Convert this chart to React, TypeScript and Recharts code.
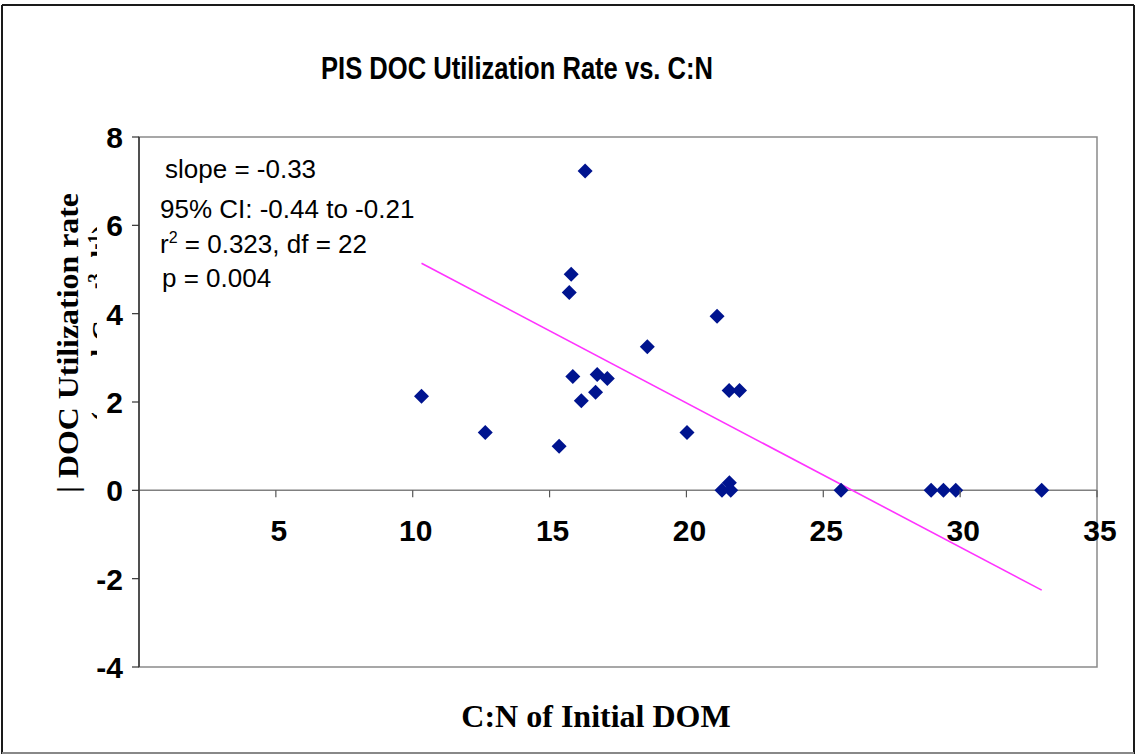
import React from 'react'
import {
  ScatterChart, Scatter, XAxis, YAxis, ReferenceLine, ReferenceArea,
} from 'recharts'

// C:N of initial DOM vs DOC utilization rate
const CN_RATIO = [10.32, 12.65, 15.35, 16.3, 15.79, 15.72, 15.85, 16.16, 16.68, 16.74, 17.11, 18.57, 20.02, 21.12, 21.56, 21.94, 21.3, 21.57, 21.62, 25.65, 28.94, 29.39, 29.84, 32.98]
const DOC_RATE = [2.13, 1.31, 1.0, 7.23, 4.89, 4.48, 2.58, 2.03, 2.22, 2.62, 2.53, 3.25, 1.31, 3.94, 2.26, 2.26, 0, 0.17, 0, 0, 0, 0, 0, 0]

// fitted line end points
const TREND_X = [10.32, 32.98]
const TREND_Y = [5.14, -2.26]

const X_TICKS = [5, 10, 15, 20, 25, 30, 35]
const Y_TICKS = [-4, -2, 0, 2, 4, 6, 8]
const X_DOMAIN: [number, number] = [0, 35]
const Y_DOMAIN: [number, number] = [-4, 8]

const TITLE = 'PIS DOC Utilization Rate vs. C:N'
const X_LABEL = 'C:N of Initial DOM'
const Y_LABEL = '| DOC Utilization rate'
const STATS = ['slope = -0.33', '95% CI: -0.44 to -0.21', 'p = 0.004']

const W = 1136
const H = 755
const PLOT_TOP = 137
const PLOT_BOTTOM = 667
const X_AXIS_H = 30
const ZERO_Y = PLOT_TOP + ((Y_DOMAIN[1] - 0) / (Y_DOMAIN[1] - Y_DOMAIN[0])) * (PLOT_BOTTOM - PLOT_TOP)

const SANS = '"Liberation Sans", Arial, sans-serif'
const SERIF = '"Liberation Serif", "Times New Roman", serif'

const data = CN_RATIO.map((x, i) => ({ x, y: DOC_RATE[i] }))

function Diamond(props: any) {
  const { cx, cy } = props
  const r = 7.5
  return (
    <polygon
      points={`${cx},${cy - r} ${cx + r},${cy} ${cx},${cy + r} ${cx - r},${cy}`}
      fill="#00148f"
    />
  )
}

// x axis sits on y = 0, so draw ticks there
function XTick(props: any) {
  const { x, payload } = props
  return (
    <g>
      <line x1={x} x2={x} y1={ZERO_Y} y2={ZERO_Y + 7} stroke="#555" strokeWidth={1.2} />
      <text
        x={x + 3}
        y={ZERO_Y + 51}
        textAnchor="middle"
        fontFamily={SANS}
        fontWeight="bold"
        fontSize={30}
        fill="#000"
      >
        {payload.value}
      </text>
    </g>
  )
}

function YTick(props: any) {
  const { x, y, payload } = props
  return (
    <text
      x={x}
      y={y + 11}
      textAnchor="end"
      fontFamily={SANS}
      fontWeight="bold"
      fontSize={30}
      fill="#000"
    >
      {payload.value}
    </text>
  )
}

export default function App() {
  return (
    <div style={{ position: 'absolute', left: 0, top: 0, width: W, height: H, background: '#fff' }}>
      <ScatterChart
        width={W}
        height={H}
        margin={{ top: PLOT_TOP, right: W - 1097, bottom: H - PLOT_BOTTOM - X_AXIS_H, left: 0 }}
      >
        <ReferenceArea
          x1={X_DOMAIN[0]}
          x2={X_DOMAIN[1]}
          y1={Y_DOMAIN[0]}
          y2={Y_DOMAIN[1]}
          fill="none"
          stroke="#8a8a8a"
          strokeWidth={1.5}
        />
        <XAxis
          type="number"
          dataKey="x"
          domain={X_DOMAIN}
          ticks={X_TICKS}
          height={X_AXIS_H}
          interval={0}
          axisLine={false}
          tickLine={false}
          tick={<XTick />}
          allowDataOverflow
        />
        <YAxis
          type="number"
          dataKey="y"
          domain={Y_DOMAIN}
          ticks={Y_TICKS}
          width={139}
          tickSize={7}
          tickMargin={9}
          axisLine={{ stroke: '#333', strokeWidth: 1.5 }}
          tickLine={{ stroke: '#333', strokeWidth: 1.2 }}
          tick={<YTick />}
          allowDataOverflow
        />
        <ReferenceLine y={0} stroke="#808080" strokeWidth={1.5} />
        <ReferenceLine
          segment={[
            { x: TREND_X[0], y: TREND_Y[0] },
            { x: TREND_X[1], y: TREND_Y[1] },
          ]}
          stroke="#ff33ff"
          strokeWidth={1.6}
        />
        <Scatter data={data} shape={<Diamond />} isAnimationActive={false} />
      </ScatterChart>

      <svg
        width={W}
        height={H}
        style={{ position: 'absolute', left: 0, top: 0, pointerEvents: 'none' }}
      >
        <defs>
          <clipPath id="ylab2">
            <rect x={80} y={200} width={17} height={240} />
          </clipPath>
        </defs>

        <g stroke="#1a1a1a" strokeWidth={2}>
          <line x1={2} y1={5} x2={1134} y2={5} />
          <line x1={2} y1={5} x2={2} y2={754} />
          <line x1={1134} y1={5} x2={1134} y2={754} />
          <line x1={2} y1={753} x2={1134} y2={753} stroke="#888" />
        </g>

        <text
          x={517}
          y={79}
          textAnchor="middle"
          fontFamily={SANS}
          fontWeight="bold"
          fontSize={32}
          textLength={392}
          lengthAdjust="spacingAndGlyphs"
        >
          {TITLE}
        </text>

        <g fontFamily={SANS} fontSize={26} fill="#000">
          <text x={165} y={178}>{STATS[0]}</text>
          <text x={160} y={218}>{STATS[1]}</text>
          <text x={160} y={253}>
            r<tspan dy={-10} fontSize={16}>2</tspan>
            <tspan dy={10}> = 0.323, df = 22</tspan>
          </text>
          <text x={162} y={287}>{STATS[2]}</text>
        </g>

        <text
          x={596}
          y={727}
          textAnchor="middle"
          fontFamily={SERIF}
          fontWeight="bold"
          fontSize={32}
        >
          {X_LABEL}
        </text>

        <text
          transform="translate(78,343) rotate(-90)"
          textAnchor="middle"
          fontFamily={SERIF}
          fontWeight="bold"
          fontSize={29}
          textLength={300}
          lengthAdjust="spacingAndGlyphs"
        >
          {Y_LABEL}
        </text>
        <g clipPath="url(#ylab2)">
          <text
            transform="translate(112,323) rotate(-90)"
            textAnchor="middle"
            fontFamily={SERIF}
            fontWeight="bold"
            fontSize={29}
          >
            (µmol C m<tspan dy={-11} fontSize={19}>-3</tspan>
            <tspan dy={11}> d</tspan>
            <tspan dy={-11} fontSize={19}>-1</tspan>
            <tspan dy={11}>)</tspan>
          </text>
        </g>
      </svg>
    </div>
  )
}
